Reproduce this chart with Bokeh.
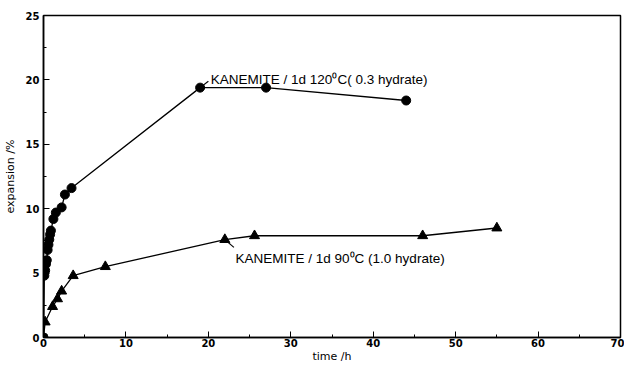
from bokeh.plotting import figure
from bokeh.models import Range1d, FixedTicker, Label
from bokeh.embed import file_html
from bokeh.resources import INLINE

# 0.3 hydrate (120 C) - circles
t_120 = [0.0, 0.1, 0.2, 0.3, 0.4, 0.5, 0.6, 0.7, 0.8, 0.9, 1.2, 1.5, 2.2, 2.6, 3.4, 19.0, 27.0, 44.0]
e_120 = [0.0, 4.8, 5.2, 5.7, 6.0, 6.8, 7.2, 7.6, 8.0, 8.3, 9.2, 9.7, 10.1, 11.1, 11.6, 19.4, 19.4, 18.4]

# 1.0 hydrate (90 C) - triangles
t_90 = [0.0, 0.2, 1.1, 1.7, 2.2, 3.6, 7.5, 22.0, 25.6, 46.0, 55.0]
e_90 = [0.0, 1.2, 2.4, 3.0, 3.6, 4.8, 5.5, 7.6, 7.9, 7.9, 8.5]

x_ticks = [0, 10, 20, 30, 40, 50, 60, 70]
y_ticks = [0, 5, 10, 15, 20, 25]

label_120 = "KANEMITE / 1d 120\u2070C( 0.3 hydrate)"
label_90 = "KANEMITE / 1d 90\u2070C (1.0 hydrate)"

p = figure(width=624, height=365, output_backend="svg", toolbar_location=None,
           x_range=Range1d(0, 70), y_range=Range1d(0, 25),
           min_border_left=43, min_border_right=4, min_border_top=15, min_border_bottom=27)

p.xgrid.visible = False
p.ygrid.visible = False
p.outline_line_color = "black"
p.outline_line_width = 1.5
p.background_fill_color = "white"
p.border_fill_color = "white"

for ax in (p.xaxis[0], p.yaxis[0]):
    ax.axis_line_color = "black"
    ax.axis_line_width = 1.5
    ax.major_tick_in = 6
    ax.major_tick_out = 0
    ax.minor_tick_in = 3
    ax.minor_tick_out = 0
    ax.major_tick_line_color = "black"
    ax.minor_tick_line_color = "black"
    ax.major_label_text_font = "DejaVu Sans"
    ax.major_label_text_font_style = "bold"
    ax.major_label_text_font_size = "10px"
    ax.major_label_text_color = "black"
    ax.axis_label_text_font = "DejaVu Sans"
    ax.axis_label_text_font_style = "normal"
    ax.axis_label_text_font_size = "11px"
    ax.axis_label_text_color = "black"

p.xaxis.major_label_standoff = 1
p.xaxis.axis_label_standoff = 0
p.yaxis.major_label_standoff = 4
p.yaxis.axis_label_standoff = 6

p.xaxis.ticker = FixedTicker(ticks=x_ticks, minor_ticks=[5, 15, 25, 35, 45, 55, 65])
p.yaxis.ticker = FixedTicker(ticks=y_ticks, minor_ticks=[2.5, 7.5, 12.5, 17.5, 22.5])
p.xaxis.axis_label = "time /h"
p.yaxis.axis_label = "expansion /%"

p.line(t_120, e_120, line_color="black", line_width=1.3)
p.scatter(t_120, e_120, marker="circle", size=9, fill_color="black", line_color="black")

p.line(t_90, e_90, line_color="black", line_width=1.3)
p.scatter(t_90[1:], e_90[1:], marker="triangle", size=10, fill_color="black", line_color="black")
p.scatter([0], [0], marker="square", size=7, fill_color="black", line_color="black")

# leader lines
p.segment(x0=[t_120[15], t_90[7]], y0=[e_120[15], e_90[7]],
          x1=[20.0, 23.1], y1=[19.9, 7.0], line_color="black", line_width=1.2)

p.add_layout(Label(x=20.3, y=20.0, text=label_120, text_font="Liberation Sans",
                   text_font_size="13.5px", text_color="black", text_baseline="alphabetic"))
p.add_layout(Label(x=23.3, y=6.15, text=label_90, text_font="Liberation Sans",
                   text_font_size="13.5px", text_color="black", text_baseline="alphabetic"))

open("out.html", "w").write(file_html(p, INLINE))
